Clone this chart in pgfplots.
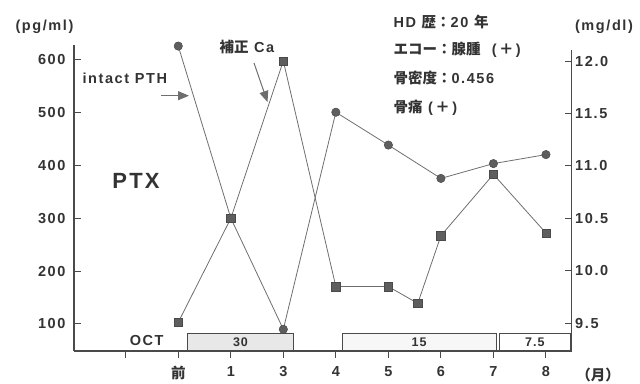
\documentclass[border=0pt]{standalone}
\usepackage{fontspec}
\setmainfont{Liberation Sans}
\newfontfamily\jp{Noto Sans CJK JP}
\usepackage{pgfplots}
\pgfplotsset{compat=1.18}
\usetikzlibrary{arrows.meta}
\definecolor{txt}{HTML}{333333}
\definecolor{ln}{HTML}{6E6E6E}
\definecolor{mk}{HTML}{5E5E5E}
\definecolor{ax}{HTML}{4A4A4A}
\newcommand\labsz[2]{\fontsize{#1}{#1}\selectfont\bfseries\addfontfeature{LetterSpace=#2}}
\newcommand\lab{\labsz{14.5}{11}}
\newcommand\labs{\labsz{12.5}{8}}
\newcommand\labl{\labsz{22}{10}}
\begin{document}
\begin{tikzpicture}[x=1pt,y=1pt]
\useasboundingbox (0,0) rectangle (640,383);
\begin{axis}[
  at={(74pt,32pt)}, anchor=south west, scale only axis,
  width=497.7pt, height=306pt,
  xmin=-1.985, xmax=7.49, ymin=49, ymax=627,
  axis y line*=left, axis x line*=bottom,
  axis line style={ax, line width=1.3pt},
  xtick={-1,0,1,2,3,4,5,6,7},
  xticklabels={,{\jp 前},1,3,4,5,6,7,8},
  ytick={100,200,300,400,500,600},
  xtick align=outside, ytick align=inside,
  major tick length=7pt,
  tick style={ax, line width=1pt},
  /pgf/number format/assume math mode=true,
  tick label style={font=\lab, text=txt},
  yticklabel style={xshift=-5pt},
  xticklabel style={yshift=-5pt},
  clip=false,
]
\draw[ax, line width=1pt, fill=gray!18] (axis cs:0.18,49) rectangle (axis cs:2.19,81.2);
\draw[ax, line width=1pt, fill=gray!6] (axis cs:3.12,49) rectangle (axis cs:6.05,81.2);
\draw[ax, line width=1pt, fill=white] (axis cs:6.12,49) rectangle (axis cs:7.46,81.2);
\node[font=\labs, text=txt] at (axis cs:1.185,65.5) {30};
\node[font=\labs, text=txt] at (axis cs:4.585,65.5) {15};
\node[font=\labs, text=txt] at (axis cs:6.79,65.5) {7.5};
\addplot[ln, line width=0.8pt, mark=*, mark size=4.2pt,
  mark options={fill=mk, draw=ax, line width=0.5pt}]
  coordinates {(0,625) (1,300) (2,90) (3,500) (4,438) (5,375) (6,403) (7,420)};
\end{axis}
\begin{axis}[
  at={(74pt,32pt)}, anchor=south west, scale only axis,
  width=497.7pt, height=301pt,
  xmin=-1.985, xmax=7.49, ymin=9.236, ymax=12.105,
  axis y line*=right, axis x line=none,
  axis line style={ax, line width=1.3pt},
  ytick={9.5,10,10.5,11,11.5,12},
  ytick align=inside,
  major tick length=7pt,
  tick style={ax, line width=1pt},
  /pgf/number format/assume math mode=true,
  yticklabel style={font=\lab, text=txt, /pgf/number format/.cd, fixed, fixed zerofill, precision=1},
  clip=false,
]
\addplot[ln, line width=0.8pt, mark=square*, mark size=4.2pt,
  mark options={fill=mk, draw=ax, line width=0.5pt}]
  coordinates {(0,9.51) (1,10.5) (2,12.0) (3,9.85) (4,9.85) (4.56,9.69) (5,10.335) (6,10.92) (7,10.36)};
\end{axis}
\begin{scope}[text=txt]
\node[font=\lab] at (44.5,356.3) {(pg/ml)};
\node[font=\lab] at (604,356.3) {(mg/dl)};
\node[anchor=west, font=\lab] at (390,361.3) {HD {\jp 歴：}20 {\jp 年}};
\node[anchor=west, font=\lab] at (390,333) {{\jp エコー：腺腫}\ \ (\,{\jp ＋}\,)};
\node[anchor=west, font=\lab] at (390,304.7) {{\jp 骨密度：}0.456};
\node[anchor=west, font=\lab] at (390,274.7) {{\jp 骨痛}\ (\,{\jp ＋}\,)};
\node[anchor=west, font=\lab] at (79,304.7) {intact PTH};
\node[anchor=west, font=\lab] at (216,336.3) {{\jp 補正} Ca};
\node[font=\labl] at (136,202.2) {PTX};
\node[font=\lab] at (146.7,42.3) {OCT};
\node[font=\lab] at (598,8) {{\jp （月）}};
\end{scope}
\draw[ln, line width=1pt, -{Triangle[length=11pt,width=9pt]}] (161,287.3) -- (189,287.3);
\draw[ln, line width=1pt, -{Triangle[length=11pt,width=9pt]}] (254,320) -- (267.5,281);
\end{tikzpicture}
\end{document}
